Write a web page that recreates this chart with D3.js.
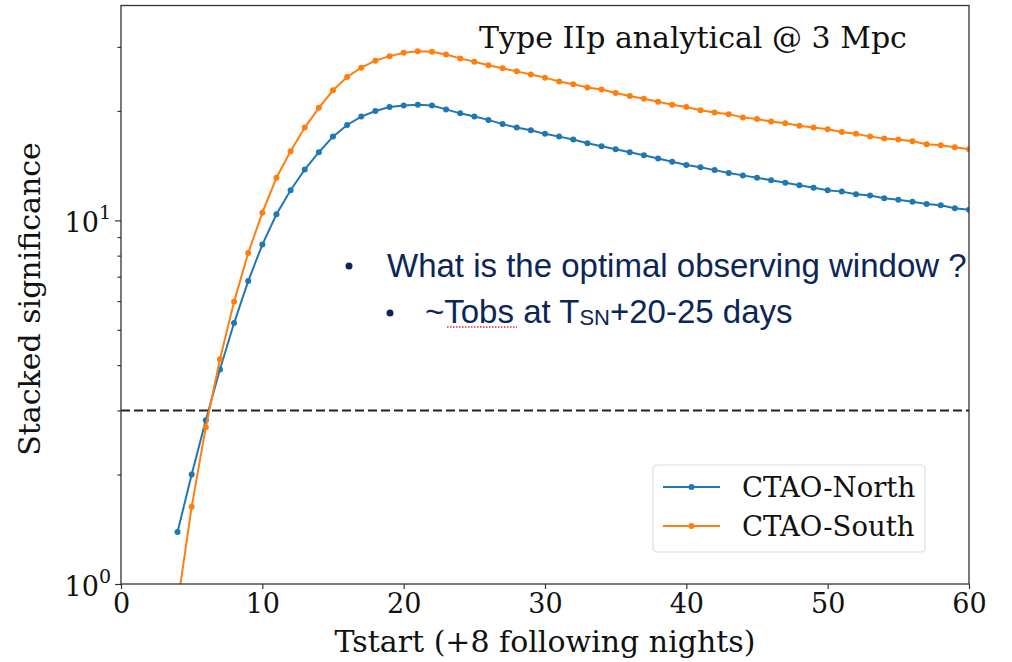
<!DOCTYPE html>
<html>
<head>
<meta charset="utf-8">
<script src="https://cdn.jsdelivr.net/npm/d3@7"></script>
<style>
  body { margin: 0; background: #fff; }
</style>
</head>
<body>
<div id="chart"></div>
<script>
// data
const tstart = [4, 5, 6, 7, 8, 9, 10, 11, 12, 13, 14, 15, 16, 17, 18, 19, 20, 21, 22, 23, 24, 25, 26, 27, 28, 29, 30, 31, 32,
  33, 34, 35, 36, 37, 38, 39, 40, 41, 42, 43, 44, 45, 46, 47, 48, 49, 50, 51, 52, 53, 54, 55, 56, 57, 58, 59, 60];
const north = [1.39, 2.0, 2.82, 3.89, 5.22, 6.81, 8.58, 10.4, 12.1, 13.8, 15.4, 17.0, 18.3, 19.3, 20.0, 20.5, 20.7, 20.8,
  20.7, 20.2, 19.7, 19.3, 18.9, 18.4, 18.0, 17.7, 17.3, 17.0, 16.7, 16.3, 16.0, 15.7, 15.4, 15.1, 14.8, 14.5, 14.2, 14.0,
  13.75, 13.5, 13.3, 13.1, 12.9, 12.7, 12.5, 12.3, 12.1, 12.0, 11.8, 11.7, 11.5, 11.4, 11.25, 11.1, 11.0, 10.8, 10.7];
const south = [0.88, 1.63, 2.70, 4.15, 5.97, 8.13, 10.5, 13.1, 15.5, 18.0, 20.4, 22.8, 24.8, 26.3, 27.5, 28.3, 28.9, 29.2,
  29.1, 28.6, 27.9, 27.3, 26.7, 26.2, 25.7, 25.2, 24.7, 24.1, 23.7, 23.2, 22.9, 22.4, 22.0, 21.6, 21.2, 20.8, 20.5, 20.1,
  19.8, 19.6, 19.2, 19.0, 18.7, 18.5, 18.2, 18.0, 17.8, 17.5, 17.3, 17.0, 16.8, 16.7, 16.5, 16.2, 16.1, 15.9, 15.7];
const seriesNames = ['CTAO-North', 'CTAO-South'];
const seriesColors = ['#1f77b4', '#ff7f0e'];
const xTicks = [0, 10, 20, 30, 40, 50, 60];
const yMajor = [1, 10];
const yMinor = [2, 3, 4, 5, 6, 7, 8, 9, 20, 30];
const threshold = 3;
const xDomain = [0, 60];
const yDomain = [1, 39];

const width = 1012;
const height = 662;
const m = { left: 121, right: 43, top: 5.5, bottom: 78 };
const pw = width - m.left - m.right;
const ph = height - m.top - m.bottom;
const serif = 'DejaVu Serif, serif';
const sans = 'Liberation Sans, Arial, sans-serif';

const svg = d3.select('#chart').append('svg')
  .attr('width', width)
  .attr('height', height)
  .attr('font-family', serif);

const x = d3.scaleLinear().domain(xDomain).range([m.left, m.left + pw]);
const y = d3.scaleLog().domain(yDomain).range([m.top + ph, m.top]);

svg.append('clipPath').attr('id', 'plot-clip')
  .append('rect')
  .attr('x', m.left).attr('y', m.top)
  .attr('width', pw).attr('height', ph);

// threshold line
svg.append('line')
  .attr('x1', m.left).attr('x2', m.left + pw)
  .attr('y1', y(threshold)).attr('y2', y(threshold))
  .attr('stroke', '#222')
  .attr('stroke-width', 1.8)
  .attr('stroke-dasharray', '9,4');

// series
const series = [north, south];
const plot = svg.append('g').attr('clip-path', 'url(#plot-clip)');
const line = d3.line().x((d) => x(d[0])).y((d) => y(d[1]));
series.forEach((vals, i) => {
  const pts = tstart.map((t, j) => [t, vals[j]]);
  plot.append('path')
    .datum(pts)
    .attr('d', line)
    .attr('fill', 'none')
    .attr('stroke', seriesColors[i])
    .attr('stroke-width', 2);
  plot.selectAll('.dot' + i)
    .data(pts)
    .enter()
    .append('circle')
    .attr('class', 'dot' + i)
    .attr('cx', (d) => x(d[0]))
    .attr('cy', (d) => y(d[1]))
    .attr('r', 3)
    .attr('fill', seriesColors[i]);
});

// axes
const xAxis = svg.append('g')
  .attr('transform', `translate(0,${m.top + ph})`)
  .call(d3.axisBottom(x).tickValues(xTicks).tickSize(5).tickPadding(5).tickFormat(d3.format('d')));
xAxis.selectAll('text').attr('font-size', 27).attr('fill', '#111').attr('font-family', serif);

const yAxis = svg.append('g')
  .attr('transform', `translate(${m.left},0)`)
  .call(d3.axisLeft(y).tickValues(yMajor).tickSize(6).tickPadding(4).tickFormat(() => ''));
yAxis.selectAll('.tick text').each(function (d) {
  const t = d3.select(this)
    .attr('font-size', 27)
    .attr('fill', '#111')
    .attr('font-family', serif)
    .attr('dy', '0.42em');
  t.append('tspan').text('10');
  t.append('tspan').text(Math.round(Math.log10(d)))
    .attr('font-size', 19)
    .attr('dy', '-0.7em');
});
svg.append('g')
  .attr('transform', `translate(${m.left},0)`)
  .call(d3.axisLeft(y).tickValues(yMinor).tickSize(3.5).tickFormat(() => ''))
  .call((g) => g.select('.domain').remove());

svg.selectAll('.domain').remove();
svg.selectAll('.tick line').attr('stroke', '#333').attr('stroke-width', 1.2);

// frame
svg.append('rect')
  .attr('x', m.left).attr('y', m.top)
  .attr('width', pw).attr('height', ph)
  .attr('fill', 'none')
  .attr('stroke', '#333')
  .attr('stroke-width', 1.3);

// axis labels
svg.append('text')
  .attr('x', m.left + pw / 2)
  .attr('y', 652)
  .attr('text-anchor', 'middle')
  .attr('font-size', 30)
  .attr('fill', '#111')
  .text('Tstart (+8 following nights)');

svg.append('text')
  .attr('transform', 'translate(40,299) rotate(-90)')
  .attr('text-anchor', 'middle')
  .attr('font-size', 30)
  .attr('fill', '#111')
  .text('Stacked significance');

// title inside the axes
svg.append('text')
  .attr('x', 479)
  .attr('y', 48)
  .attr('font-size', 30)
  .attr('fill', '#111')
  .text('Type IIp analytical @ 3 Mpc');

// legend
const lg = svg.append('g').attr('transform', 'translate(653,465)');
lg.append('rect')
  .attr('width', 272).attr('height', 87)
  .attr('rx', 4)
  .attr('fill', '#fff')
  .attr('stroke', '#ddd')
  .attr('stroke-width', 1.2);
seriesNames.forEach((name, i) => {
  const gy = 22 + i * 39;
  lg.append('line')
    .attr('x1', 10).attr('x2', 67)
    .attr('y1', gy).attr('y2', gy)
    .attr('stroke', seriesColors[i]).attr('stroke-width', 2);
  lg.append('circle')
    .attr('cx', 38.5).attr('cy', gy).attr('r', 3)
    .attr('fill', seriesColors[i]);
  lg.append('text')
    .attr('x', 89).attr('y', gy + 10)
    .attr('font-size', 27.5)
    .attr('fill', '#111')
    .text(name);
});

// overlaid slide notes
const navy = '#0c2658';
const notes = svg.append('g').attr('fill', navy);
notes.append('circle').attr('cx', 349).attr('cy', 266).attr('r', 3.5);
notes.append('text')
  .attr('x', 387).attr('y', 277)
  .attr('font-size', 33)
  .attr('font-family', sans)
  .text('What is the optimal observing window ?');
notes.append('circle').attr('cx', 390).attr('cy', 313).attr('r', 3.5);
const t2 = notes.append('text')
  .attr('x', 425).attr('y', 323)
  .attr('font-size', 33)
  .attr('font-family', sans);
t2.append('tspan').text('~Tobs at T');
t2.append('tspan').text('SN').attr('font-size', 22).attr('dy', 2);
t2.append('tspan').text('+20-25 days').attr('dy', -2);
// spell-check squiggle under "Tobs"
svg.append('line')
  .attr('x1', 447).attr('x2', 517)
  .attr('y1', 327).attr('y2', 327)
  .attr('stroke', '#e03030')
  .attr('stroke-width', 1.5)
  .attr('stroke-dasharray', '1.5,1.5');
</script>
</body>
</html>
